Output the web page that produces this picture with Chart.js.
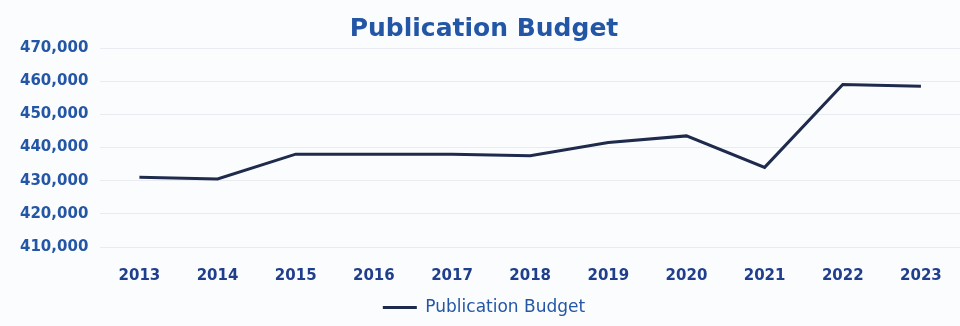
<!DOCTYPE html>
<html>
<head>
<meta charset="utf-8">
<script src="https://cdn.jsdelivr.net/npm/chart.js@4"></script>
<style>
  html, body { margin: 0; padding: 0; background: #fbfcfe; }
  #wrap { width: 960px; height: 326px; }
</style>
</head>
<body>
<div id="wrap"><canvas id="chart1"></canvas></div>
<script>
const years = ['2013', '2014', '2015', '2016', '2017', '2018', '2019', '2020', '2021', '2022', '2023'];
const budget = [431000, 430500, 438000, 438000, 438000, 437500, 441500, 443500, 434000, 459000, 458500];
const yTicks = [410000, 420000, 430000, 440000, 450000, 460000, 470000];

function createChart1() {
    const ctx = document.getElementById('chart1');
    new Chart(ctx, {
        type: 'line',
        data: {
            labels: years,
            datasets: [{
                label: 'Publication Budget',
                data: budget,
                borderColor: '#1f2b4d',
                backgroundColor: '#1f2b4d',
                borderWidth: 3,
                pointRadius: 0,
                tension: 0
            }]
        },
        options: {
            responsive: true,
            maintainAspectRatio: false,
            animation: false,
            layout: { padding: { left: 8, right: 0, top: 0, bottom: 0 } },
            plugins: {
                title: {
                    display: true,
                    text: 'Publication Budget',
                    color: '#2456a6',
                    font: { family: 'DejaVu Sans', size: 25, weight: 'bold' },
                    padding: { top: 14, bottom: 4 }
                },
                legend: {
                    position: 'bottom',
                    labels: {
                        usePointStyle: true,
                        pointStyle: 'line',
                        pointStyleWidth: 34,
                        color: '#2456a6',
                        font: { family: 'DejaVu Sans', size: 17 },
                        padding: 2
                    }
                },
                tooltip: { enabled: false }
            },
            scales: {
                x: {
                    offset: true,
                    grid: { display: false },
                    border: { display: false },
                    ticks: {
                        color: '#1f3f8c',
                        font: { family: 'DejaVu Sans', size: 15, weight: 'bold' },
                        padding: 12
                    }
                },
                y: {
                    min: yTicks[0],
                    max: yTicks[yTicks.length - 1],
                    afterBuildTicks: (axis) => { axis.ticks = yTicks.map(v => ({ value: v })); },
                    grid: { color: '#e8ebf0', drawTicks: false },
                    border: { display: false },
                    ticks: {
                        color: '#2456a6',
                        font: { family: 'DejaVu Sans', size: 15, weight: 'bold' },
                        padding: 12,
                        callback: (v) => v.toLocaleString('en-US')
                    }
                }
            }
        }
    });
}

createChart1();
</script>
</body>
</html>
